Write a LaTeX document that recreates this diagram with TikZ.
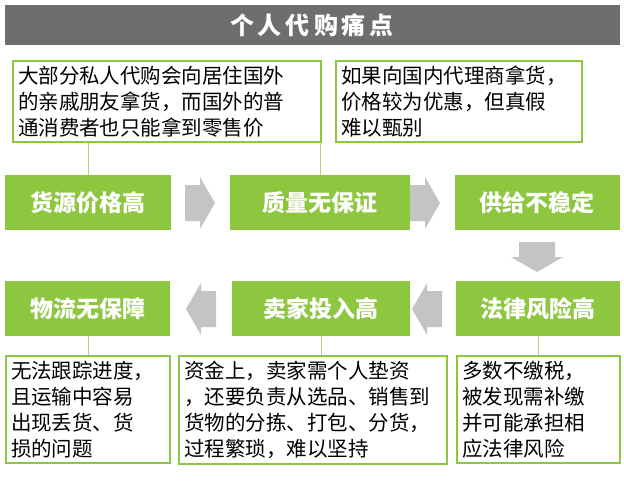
\documentclass[tikz,border=0pt]{standalone}
\usepackage{fontspec}
\setmainfont{Noto Sans CJK SC}
\definecolor{leaf}{HTML}{8DC63F}
\definecolor{bar}{HTML}{6E6E6E}
\definecolor{arrowgray}{HTML}{C4C4C4}
\tikzset{
  stage/.style={fill=leaf, text=white, font=\bfseries\fontsize{23}{26}\selectfont},
  note/.style={draw=leaf, line width=2pt, fill=white, align=left, inner sep=5pt,
    font=\fontsize{20.5}{26}\selectfont, anchor=north west},
  flowarrow/.pic={\fill[arrowgray] (-15,-18) -- (0,-18) -- (0,-26) -- (15,0) -- (0,26) -- (0,18) -- (-15,18) -- cycle;},
  link/.style={leaf!70, line width=0.8pt}
}
\begin{document}
\begin{tikzpicture}[x=1pt,y=-1pt]
  \useasboundingbox (0,0) rectangle (624,482);
  % title bar
  \fill[bar] (5,5) rectangle (620,45);
  \node[text=white, font=\bfseries\fontsize{24}{26}\selectfont] (title) at (312,25) {个\,人\,代\,购\,痛\,点};

  % stages
  \fill[stage] (5,175) rectangle (171,230);
  \node[stage] (price) at (88,203) {货源价格高};
  \fill[stage] (230,175) rectangle (410,230);
  \node[stage] (quality) at (320,203) {质量无保证};
  \fill[stage] (455,175) rectangle (620,230);
  \node[stage] (supply) at (537,203) {供给不稳定};
  \fill[stage] (456,281) rectangle (620,336);
  \node[stage] (legal) at (538,309) {法律风险高};
  \fill[stage] (232,281) rectangle (410,336);
  \node[stage] (cost) at (321,309) {卖家投入高};
  \fill[stage] (5,281) rectangle (170,336);
  \node[stage] (logistics) at (88,309) {物流无保障};

  % arrows
  \pic at (200,203) {flowarrow};
  \pic at (425,203) {flowarrow};
  \pic[rotate=-90] at (537,257) {flowarrow};
  \pic[rotate=180] at (427,309) {flowarrow};
  \pic[rotate=180] at (201,309) {flowarrow};

  % notes
  \node[note, text width=298pt] (n1) at (12,60) {大部分私人代购会向居住国外\\的亲戚朋友拿货，而国外的普\\通消费者也只能拿到零售价};
  \node[note, text width=236pt] (n2) at (335,60) {如果向国内代理商拿货，\\价格较为优惠，但真假\\难以甄别};
  \node[note, text width=154pt] (n3) at (5,355) {无法跟踪进度，\\且运输中容易\\出现丢货、货\\损的问题};
  \node[note, text width=258pt] (n4) at (178,355) {资金上，卖家需个人垫资\\，还要负责从选品、销售到\\货物的分拣、打包、分货，\\过程繁琐，难以坚持};
  \node[note, text width=153pt] (n5) at (456,355) {多数不缴税，\\被发现需补缴\\并可能承担相\\应法律风险};

  % links
  \draw[link] (n1.south -| price) -- (price |- 0,175);
  \draw[link] (n2.south -| quality) -- (quality |- 0,175);
  \draw[link] (logistics |- 0,336) -- (n3.north -| logistics);
  \draw[link] (cost |- 0,336) -- (n4.north -| cost);
  \draw[link] (legal |- 0,336) -- (n5.north -| legal);
\end{tikzpicture}
\end{document}
